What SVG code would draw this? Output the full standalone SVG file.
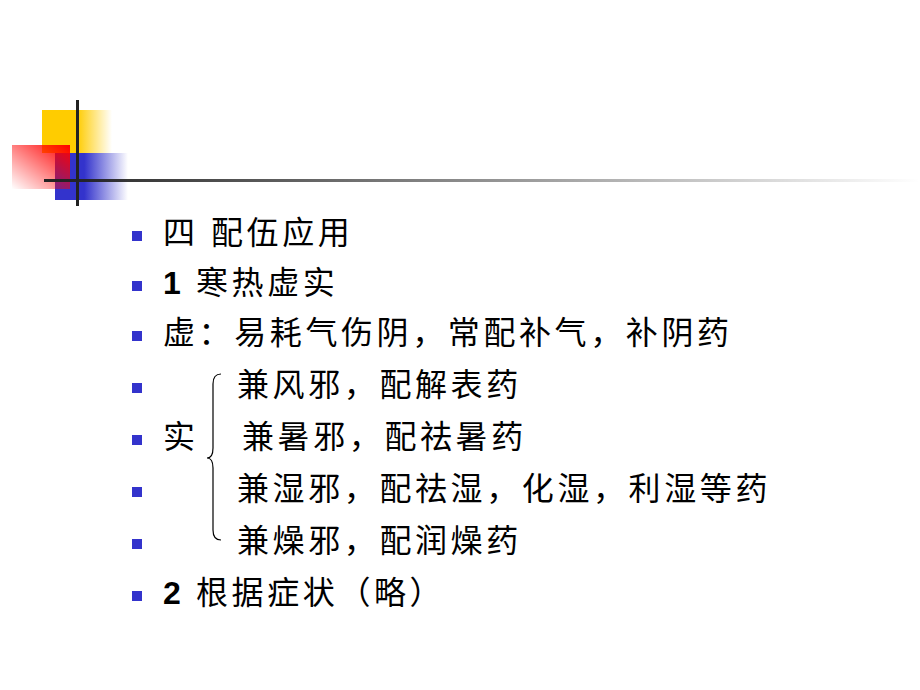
<svg xmlns="http://www.w3.org/2000/svg" width="920" height="690" viewBox="0 0 920 690">
<defs>
<linearGradient id="gy" x1="0" x2="1" y1="0" y2="0"><stop offset="0.5" stop-color="#ffcc00"/><stop offset="1" stop-color="#ffcc00" stop-opacity="0"/></linearGradient>
<linearGradient id="gb" x1="0" x2="1" y1="0" y2="0"><stop offset="0.4" stop-color="#3333cc"/><stop offset="1" stop-color="#3333cc" stop-opacity="0"/></linearGradient>
<linearGradient id="gr" x1="1" y1="0" x2="0" y2="1"><stop offset="0" stop-color="#ff0000"/><stop offset="1" stop-color="#ff0000" stop-opacity="0"/></linearGradient>
<linearGradient id="gl" x1="0" x2="1" y1="0" y2="0"><stop offset="0" stop-color="#222"/><stop offset="1" stop-color="#222" stop-opacity="0"/></linearGradient>
<style>
.t{font-family:"Liberation Sans","Noto Sans CJK SC",sans-serif;font-size:32px;letter-spacing:3.6px;fill:#000}
.b{fill:#3333cc}
</style>
</defs>
<g id="deco">
<rect x="42" y="110" width="70" height="43" fill="url(#gy)"/>
<rect x="55" y="153" width="73" height="47" fill="url(#gb)"/>
<rect x="12" y="145" width="58" height="44" fill="url(#gr)"/>
<rect x="44" y="179" width="876" height="3" fill="url(#gl)"/>
<rect x="76" y="100" width="3" height="106" fill="#222"/>
</g>
<g id="bullets">
<rect class="b" x="132" y="231" width="10" height="10"/>
<rect class="b" x="132" y="281" width="10" height="10"/>
<rect class="b" x="132" y="331" width="10" height="10"/>
<rect class="b" x="132" y="383" width="10" height="10"/>
<rect class="b" x="132" y="435" width="10" height="10"/>
<rect class="b" x="132" y="487" width="10" height="10"/>
<rect class="b" x="132" y="539" width="10" height="10"/>
<rect class="b" x="132" y="591" width="10" height="10"/>
</g>
<g id="texts">
<text class="t" x="163" y="244">四</text>
<text class="t" x="211" y="244">配伍应用</text>
<text class="t" x="163" y="294" font-weight="bold">1</text>
<text class="t" x="196" y="294">寒热虚实</text>
<text class="t" x="163" y="344">虚：易耗气伤阴，常配补气，补阴药</text>
<text class="t" x="237" y="396">兼风邪，配解表药</text>
<text class="t" x="163" y="448">实</text>
<text class="t" x="242" y="448">兼暑邪，配祛暑药</text>
<text class="t" x="237" y="500">兼湿邪，配祛湿，化湿，利湿等药</text>
<text class="t" x="237" y="552">兼燥邪，配润燥药</text>
<text class="t" x="163" y="604" font-weight="bold">2</text>
<text class="t" x="196" y="604">根据症状（略）</text>
</g>
<g id="connectors">
<path d="M221,374 Q213,374 213,384 L213,448 Q213,458 207,458 Q213,458 213,468 L213,530 Q213,540 221,540" fill="none" stroke="#000" stroke-width="1.2"/>
</g>
</svg>
